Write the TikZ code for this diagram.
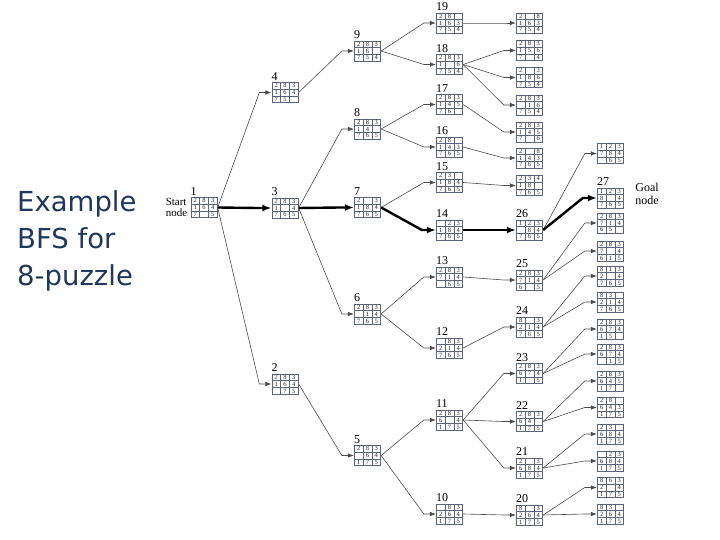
\documentclass[tikz,border=0pt]{standalone}
\usepackage{fontspec}
\setmainfont{Liberation Serif}
\newfontfamily\titlefont{DejaVu Sans}
\usetikzlibrary{positioning,arrows.meta,matrix}
\definecolor{titleblue}{RGB}{32,56,92}
\definecolor{gridline}{RGB}{90,100,122}
\newcommand{\tilefont}{\fontsize{6.5}{6.5}\selectfont}

\begin{document}
\begin{tikzpicture}[x=1pt,y=-1pt,
    puzzle/.style={matrix of nodes, nodes in empty cells, inner sep=0pt,
      column sep=-0.5pt, row sep=-0.5pt,
      nodes={draw=gridline, line width=0.5pt, minimum width=8.8pt, minimum height=6.8pt,
        anchor=center, text height=4.4pt, text depth=0pt,
        inner sep=0pt, font=\tilefont, text=black!85}},
    num/.style={anchor=south west, inner sep=0pt, yshift=1.5pt, font=\fontsize{12}{12}\selectfont},
    link/.style={draw=black!70, line width=0.6pt, -{Latex[length=6pt,width=4.5pt]}},
    best/.style={draw=black, line width=2.4pt, -{Latex[length=9pt,width=7pt]}}]
  \useasboundingbox (0,0) rectangle (720,540);

  \node[anchor=north west, inner sep=0pt, align=left, text=titleblue,
        font=\titlefont\fontsize{27.5}{37}\selectfont] (title) at (17,190) {Example\\BFS for\\8-puzzle};

  % start
  \matrix[puzzle,label={[num]north west:1}] (n1) at (204,207.5) {2&8&3\\1&6&4\\7&&5\\};
  \node[left=3pt of n1, align=left, inner sep=0pt, font=\fontsize{11}{11}\selectfont] (start) {Start\\node};

  % depth 1
  \matrix[puzzle,label={[num]north west:4}] (n4) at (285,92.5) {2&8&3\\1&6&4\\7&5&\\};
  \matrix[puzzle,label={[num]north west:3}] (n3) at (285,208) {2&8&3\\1&&4\\7&6&5\\};
  \matrix[puzzle,label={[num]north west:2}] (n2) at (285,384) {2&8&3\\1&6&4\\&7&5\\};

  % depth 2
  \matrix[puzzle,label={[num]north west:9}] (n9) at (367.5,51) {2&8&3\\1&6&\\7&5&4\\};
  \matrix[puzzle,label={[num]north west:8}] (n8) at (367.5,129) {2&8&3\\1&4&\\7&6&5\\};
  \matrix[puzzle,label={[num]north west:7}] (n7) at (367.5,207.5) {2&&3\\1&8&4\\7&6&5\\};
  \matrix[puzzle,label={[num]north west:6}] (n6) at (367.5,314) {2&8&3\\&1&4\\7&6&5\\};
  \matrix[puzzle,label={[num]north west:5}] (n5) at (367.5,455.5) {2&8&3\\&6&4\\1&7&5\\};

  % depth 3
  \matrix[puzzle,label={[num]north west:19}] (n19) at (449.5,23) {2&8&\\1&6&3\\7&5&4\\};
  \matrix[puzzle,label={[num]north west:18}] (n18) at (449.5,64.5) {2&8&3\\1&&6\\7&5&4\\};
  \matrix[puzzle,label={[num]north west:17}] (n17) at (449.5,104.5) {2&8&3\\1&4&5\\7&6&\\};
  \matrix[puzzle,label={[num]north west:16}] (n16) at (449.5,147) {2&8&\\1&4&3\\7&6&5\\};
  \matrix[puzzle,label={[num]north west:15}] (n15) at (449.5,182.5) {2&3&\\1&8&4\\7&6&5\\};
  \matrix[puzzle,label={[num]north west:14}] (n14) at (449.5,230) {&2&3\\1&8&4\\7&6&5\\};
  \matrix[puzzle,label={[num]north west:13}] (n13) at (449.5,277) {2&8&3\\7&1&4\\&6&5\\};
  \matrix[puzzle,label={[num]north west:12}] (n12) at (449.5,348) {&8&3\\2&1&4\\7&6&5\\};
  \matrix[puzzle,label={[num]north west:11}] (n11) at (449.5,420) {2&8&3\\6&&4\\1&7&5\\};
  \matrix[puzzle,label={[num]north west:10}] (n10) at (449.5,514) {&8&3\\2&6&4\\1&7&5\\};

  % depth 4
  \matrix[puzzle] (n19a) at (529.5,23) {2&&8\\1&6&3\\7&5&4\\};
  \matrix[puzzle] (n18a) at (529.5,50.5) {2&8&3\\1&5&6\\7&&4\\};
  \matrix[puzzle] (n18b) at (529.5,77.5) {2&&3\\1&8&6\\7&5&4\\};
  \matrix[puzzle] (n18c) at (529.5,105) {2&8&3\\&1&6\\7&5&4\\};
  \matrix[puzzle] (n17a) at (529.5,132) {2&8&3\\1&4&5\\7&&6\\};
  \matrix[puzzle] (n16a) at (529.5,158) {2&&8\\1&4&3\\7&6&5\\};
  \matrix[puzzle] (n15a) at (529.5,185.5) {2&3&4\\1&8&\\7&6&5\\};
  \matrix[puzzle,label={[num]north west:26}] (n26) at (529.5,230) {1&2&3\\&8&4\\7&6&5\\};
  \matrix[puzzle,label={[num]north west:25}] (n25) at (529.5,280) {2&8&3\\7&1&4\\6&&5\\};
  \matrix[puzzle,label={[num]north west:24}] (n24) at (529.5,327) {8&&3\\2&1&4\\7&6&5\\};
  \matrix[puzzle,label={[num]north west:23}] (n23) at (529.5,373.5) {2&8&3\\6&7&4\\1&&5\\};
  \matrix[puzzle,label={[num]north west:22}] (n22) at (529.5,421.5) {2&8&3\\6&4&\\1&7&5\\};
  \matrix[puzzle,label={[num]north west:21}] (n21) at (529.5,468) {2&&3\\6&8&4\\1&7&5\\};
  \matrix[puzzle,label={[num]north west:20}] (n20) at (529.5,515) {8&&3\\2&6&4\\1&7&5\\};

  % depth 5
  \matrix[puzzle] (n26a) at (610.5,153.5) {1&2&3\\7&8&4\\&6&5\\};
  \matrix[puzzle,label={[num]north west:27}] (n27) at (610.5,198) {1&2&3\\8&&4\\7&6&5\\};
  \node[right=11pt of n27, yshift=4pt, align=left, inner sep=0pt, font=\fontsize{12}{12.5}\selectfont] (goal) {Goal\\node};
  \matrix[puzzle] (n25a) at (610.5,223) {2&8&3\\7&1&4\\6&5&\\};
  \matrix[puzzle] (n25b) at (610.5,251) {2&8&3\\7&&4\\6&1&5\\};
  \matrix[puzzle] (n24a) at (610.5,276) {8&1&3\\2&&4\\7&6&5\\};
  \matrix[puzzle] (n24b) at (610.5,302) {8&3&\\2&1&4\\7&6&5\\};
  \matrix[puzzle] (n23a) at (610.5,329) {2&8&3\\6&7&4\\1&5&\\};
  \matrix[puzzle] (n23b) at (610.5,354) {2&8&3\\6&7&4\\&1&5\\};
  \matrix[puzzle] (n22a) at (610.5,381) {2&8&3\\6&4&5\\1&7&\\};
  \matrix[puzzle] (n22b) at (610.5,407.5) {2&8&\\6&4&3\\1&7&5\\};
  \matrix[puzzle] (n21a) at (610.5,434) {2&3&\\6&8&4\\1&7&5\\};
  \matrix[puzzle] (n21b) at (610.5,461) {&2&3\\6&8&4\\1&7&5\\};
  \matrix[puzzle] (n20a) at (610.5,487.5) {8&6&3\\2&&4\\1&7&5\\};
  \matrix[puzzle] (n20b) at (610.5,514) {8&3&\\2&6&4\\1&7&5\\};

  % connectors
  \foreach \a/\b in {1/4,1/2,4/9,3/8,3/6,2/5,9/19,9/18,8/17,8/16,7/15,6/13,6/12,5/11,5/10,
      19/19a,18/18a,18/18b,18/18c,17/17a,16/16a,15/15a,13/25,12/24,11/23,11/22,11/21,10/20,
      26/26a,25/25a,25/25b,24/24a,24/24b,23/23a,23/23b,22/22a,22/22b,21/21a,21/21b,20/20a,20/20b}
    \draw[link] (n\a.east) -- ([xshift=-12pt]n\b.west) -- (n\b.west);
  \foreach \a/\b in {1/3,3/7,7/14,14/26,26/27}
    \draw[best] (n\a.east) -- ([xshift=-14pt]n\b.west) -- (n\b.west);
\end{tikzpicture}
\end{document}
